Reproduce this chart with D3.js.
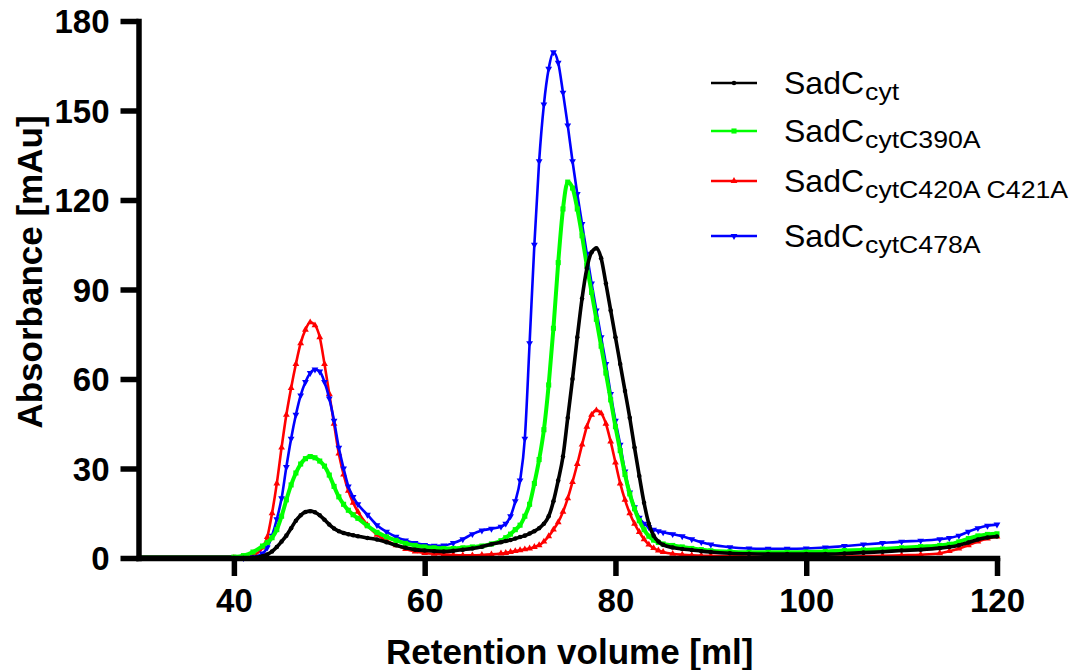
<!DOCTYPE html>
<html>
<head>
<meta charset="utf-8">
<script src="https://cdn.jsdelivr.net/npm/d3@7"></script>
<style>
  body { margin: 0; background: #fff; }
  svg { display: block; }
</style>
</head>
<body>
<svg id="chart" width="1074" height="670"></svg>
<script>
// Elution volumes (ml) shared by every trace
const volume = [40,41,42,43,43.5,44,44.5,45,45.5,46,46.5,47,47.5,48,48.5,49,49.5,50,50.5,51,51.5,52,52.5,53,
  54,55,56,57,58,59,60,61,62,63,64,65,66,67,68,
  68.5,69,69.5,70,70.5,71,71.5,72,72.5,73,73.5,74,74.5,75,75.5,76,76.5,77,77.5,78,78.5,79,79.5,80,80.5,81,81.5,82,82.5,83,83.5,84,84.5,85,
  86,87,88,89,90,92,94,96,98,100,102,104,106,108,110,112,114,115,116,117,118,119,120];

// Absorbance (mAu) per construct
const sadcCyt = [0,0,0.1,0.6,1.2,2.2,3.7,5.5,7.5,10,12.5,14.3,15.4,15.7,15.3,14.3,12.8,11.2,9.9,9.0,8.4,8.0,7.6,7.3,
  6.7,6.2,5.3,4.3,3.4,2.8,2.5,2.3,2.2,2.4,2.8,3.2,3.8,4.6,5.3,
  5.7,6.0,6.5,7.0,7.5,8.2,9.0,10.0,11.5,14,19,26,34,47,60,74,87,97,102.5,103.8,100.5,92,83,74,65,56,47,37,27.5,18.5,11.5,7.5,5.5,4.4,
  3.5,3.0,2.7,2.3,2.0,1.6,1.4,1.3,1.3,1.3,1.3,1.5,1.8,2.1,2.5,2.8,3.3,3.7,4.3,5.2,6.2,6.9,7.2];

const sadcC390A = [0.3,0.8,2.0,4.0,5.2,6.8,9.5,14,19.5,24.5,28.5,31.5,33.3,34,33.6,32.5,30.8,27.8,24,20.5,18,16,14.5,13.3,
  10.8,8.6,7.1,5.9,4.9,4.2,3.7,3.4,3.2,3.2,3.4,3.7,4.0,4.7,5.8,
  6.8,8,9.5,11,14,18,25,33,43,58,77,99,117,126,124,117,108,98,89,80,71,62,53,44,36,28,21.5,16.5,12.5,9.5,7.3,6.0,5.2,4.7,
  4.2,3.7,3.2,2.8,2.4,2.1,1.9,1.9,1.9,2.0,2.2,2.5,2.7,3.0,3.4,3.8,4.2,4.6,5.4,6.5,7.4,7.9,8.1];

const sadcC420AC421A = [0,0.1,0.8,3.5,7,15,25,37,48,57,65,72,76.5,79,78,74,65,55,45,35,28,22.5,18.5,15.5,
  11,7.8,5.8,4.3,3.0,2.2,1.7,1.4,1.2,1.0,0.9,0.9,1.0,1.2,1.5,
  1.7,2.0,2.3,2.6,2.9,3.2,3.7,4.3,5.5,7.3,9.5,12,15.5,20,25.5,31.5,38,44,48,49.5,48.5,45,39,32,25,19.5,15,11.5,8.7,6.3,4.5,3.3,2.5,2.0,
  1.4,1.1,0.9,0.8,0.7,0.6,0.5,0.4,0.4,0.4,0.4,0.5,0.6,0.7,0.9,1.1,1.6,2.3,3.2,4.3,5.5,6.5,7.2];

const sadcC478A = [0,0,0.3,1.5,3.5,7.5,13,20,30.5,40,48,54.5,59,62,63.2,62.5,59,53.5,46,37,30,24,20.5,18,
  14.5,11,8.8,7.1,5.9,5.0,4.4,4.1,4.2,5.0,6.3,8.0,9.2,9.8,10.5,
  11.5,14,19,26,40,72,105,133,152,164,169.5,166,156,145,133,122,112,102,92,83,74,65,55,46,38,29,22,17,13.5,11.5,10.3,9.5,9.0,8.6,
  8.0,7.3,6.3,5.3,4.5,3.6,3.2,3.1,3.1,3.2,3.5,4.0,4.5,5.0,5.5,5.8,6.3,6.7,7.5,8.8,10,10.8,11.2];

// Flat run before sample injection (ml)
const preRun = [30, 40];

const xTicks = [40, 60, 80, 100, 120];
const yTicks = [0, 30, 60, 90, 120, 150, 180];

const legendMain = "SadC";
const legendSubs = ["cyt", "cytC390A", "cytC420A C421A", "cytC478A"];

const traces = [
  { sub: legendSubs[0], values: sadcCyt,        color: "#000000", symbol: d3.symbolCircle,   size: 16, width: 3.6, rotate: 0 },
  { sub: legendSubs[1], values: sadcC390A,      color: "#00ff00", symbol: d3.symbolSquare,   size: 26, width: 4.0, rotate: 0 },
  { sub: legendSubs[2], values: sadcC420AC421A, color: "#ff0000", symbol: d3.symbolTriangle, size: 20, width: 2.6, rotate: 0 },
  { sub: legendSubs[3], values: sadcC478A,      color: "#0000ff", symbol: d3.symbolTriangle, size: 20, width: 2.6, rotate: 180 }
];
// drawing order: red, blue, green, black on top
const drawOrder = [2, 3, 1, 0];

const font = "'Liberation Sans', Arial, sans-serif";
const svg = d3.select("#chart");
const x = d3.scaleLinear().domain([30, 120]).range([138.5, 997]);
const y = d3.scaleLinear().domain([0, 180]).range([558, 21]);

const plot = svg.append("g");

// baseline before injection
plot.append("path")
  .datum(preRun)
  .attr("fill", "none")
  .attr("stroke", "#2b5e2b")
  .attr("stroke-width", 2)
  .attr("d", d3.line().x(d => x(d)).y(() => y(0) - 2));

const line = d3.line().curve(d3.curveMonotoneX);

drawOrder.forEach(i => {
  const t = traces[i];
  const pts = volume.map((v, k) => [x(v), y(t.values[k])]);
  const g = plot.append("g");
  g.append("path")
    .attr("d", line(pts))
    .attr("fill", "none")
    .attr("stroke", t.color)
    .attr("stroke-width", t.width)
    .attr("stroke-linejoin", "round")
    .attr("stroke-linecap", "round");
  const sym = d3.symbol().type(t.symbol).size(t.size);
  g.selectAll("path.m")
    .data(pts)
    .join("path")
    .attr("class", "m")
    .attr("d", sym)
    .attr("fill", t.color)
    .attr("transform", d => `translate(${d[0]},${d[1]}) rotate(${t.rotate})`);
});

// Axes
const axisStyle = sel => {
  sel.select(".domain").attr("stroke", "#000").attr("stroke-width", 5.5).attr("stroke-linecap", "square");
  sel.selectAll(".tick line").attr("stroke", "#000").attr("stroke-width", 5.5);
  sel.selectAll(".tick text")
    .attr("fill", "#000")
    .style("font-family", font)
    .style("font-weight", "bold")
    .style("font-size", "33px");
};

const xAxis = svg.append("g")
  .attr("transform", `translate(0,${y(0)})`)
  .call(d3.axisBottom(x).tickValues(xTicks).tickSize(18).tickSizeOuter(0))
  .call(axisStyle);
xAxis.selectAll(".tick text").attr("y", 54).attr("dy", 0);

const yAxis = svg.append("g")
  .attr("transform", `translate(${x(30)},0)`)
  .call(d3.axisLeft(y).tickValues(yTicks).tickSize(18).tickSizeOuter(0))
  .call(axisStyle);
yAxis.selectAll(".tick text").attr("x", -29).attr("dy", "0.36em");

// Axis titles
svg.append("text")
  .attr("x", (x(30) + x(120)) / 2 + 2)
  .attr("y", 664)
  .attr("text-anchor", "middle")
  .style("font-family", font)
  .style("font-weight", "bold")
  .style("font-size", "35px")
  .text("Retention volume [ml]");

svg.append("text")
  .attr("transform", "translate(42,272) rotate(-90)")
  .attr("text-anchor", "middle")
  .style("font-family", font)
  .style("font-weight", "bold")
  .style("font-size", "35px")
  .text("Absorbance [mAu]");

// Legend
const legendRows = [83, 131, 181, 236];
const legend = svg.append("g");
traces.forEach((t, i) => {
  const ly = legendRows[i];
  const row = legend.append("g");
  row.append("line")
    .attr("x1", 711).attr("x2", 757)
    .attr("y1", ly).attr("y2", ly)
    .attr("stroke", t.color).attr("stroke-width", 2.4);
  row.append("path")
    .attr("d", d3.symbol().type(t.symbol).size(t.size)())
    .attr("fill", t.color)
    .attr("transform", `translate(734,${ly}) rotate(${t.rotate})`);
  const main = row.append("text")
    .attr("x", 784).attr("y", ly + 10.5)
    .style("font-family", font)
    .style("font-size", "32px")
    .attr("fill", "#000")
    .text(legendMain);
  const w = main.node().getComputedTextLength();
  row.append("text")
    .attr("transform", `translate(${784 + w + 1},${ly + 16.5}) scale(1.16,1)`)
    .style("font-family", font)
    .style("font-size", "23px")
    .attr("fill", "#000")
    .text(t.sub);
});
</script>
</body>
</html>
